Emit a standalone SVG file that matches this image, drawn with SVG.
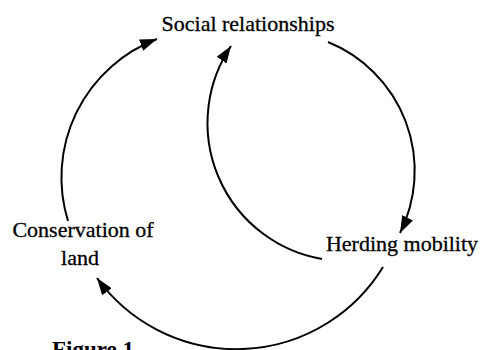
<svg xmlns="http://www.w3.org/2000/svg" width="480" height="350" viewBox="0 0 480 350">
  <style>
    .label { font-family: "Liberation Serif", "Times New Roman", serif; font-size: 22px; fill: #000; stroke: #000; stroke-width: 0.3; }
    .caption { font-family: "Liberation Serif", "Times New Roman", serif; font-size: 23px; font-weight: bold; fill: #000; }
    .link { fill: none; stroke: #000; stroke-width: 2; marker-end: url(#head); }
  </style>
  <defs>
    <marker id="head" markerUnits="userSpaceOnUse" markerWidth="18" markerHeight="12" refX="17" refY="6" orient="auto">
      <path d="M0,0 L17,6 L0,12 z" fill="#000"/>
    </marker>
  </defs>
  <rect width="480" height="350" fill="#fff"/>

  <g id="connectors">
    <!-- Conservation of land -> Social relationships -->
    <path class="link" d="M68,221 A148,148 0 0 1 157,39"/>
    <!-- Social relationships -> Herding mobility -->
    <path class="link" d="M328,42 A139,139 0 0 1 400,233"/>
    <!-- Herding mobility -> Social relationships (inner loop) -->
    <path class="link" d="M322,259 A138,138 0 0 1 231,46"/>
    <!-- Herding mobility -> Conservation of land -->
    <path class="link" d="M383,267 A172,172 0 0 1 97,278"/>
  </g>

  <g id="social-relationships">
    <text class="label" x="248" y="31" text-anchor="middle">Social relationships</text>
  </g>
  <g id="herding-mobility">
    <text class="label" x="402" y="251" text-anchor="middle">Herding mobility</text>
  </g>
  <g id="conservation-of-land">
    <text class="label" x="83" y="237" text-anchor="middle">Conservation of</text>
    <text class="label" x="80" y="265" text-anchor="middle">land</text>
  </g>
  <text class="caption" x="52" y="357">Figure 1</text>
</svg>
